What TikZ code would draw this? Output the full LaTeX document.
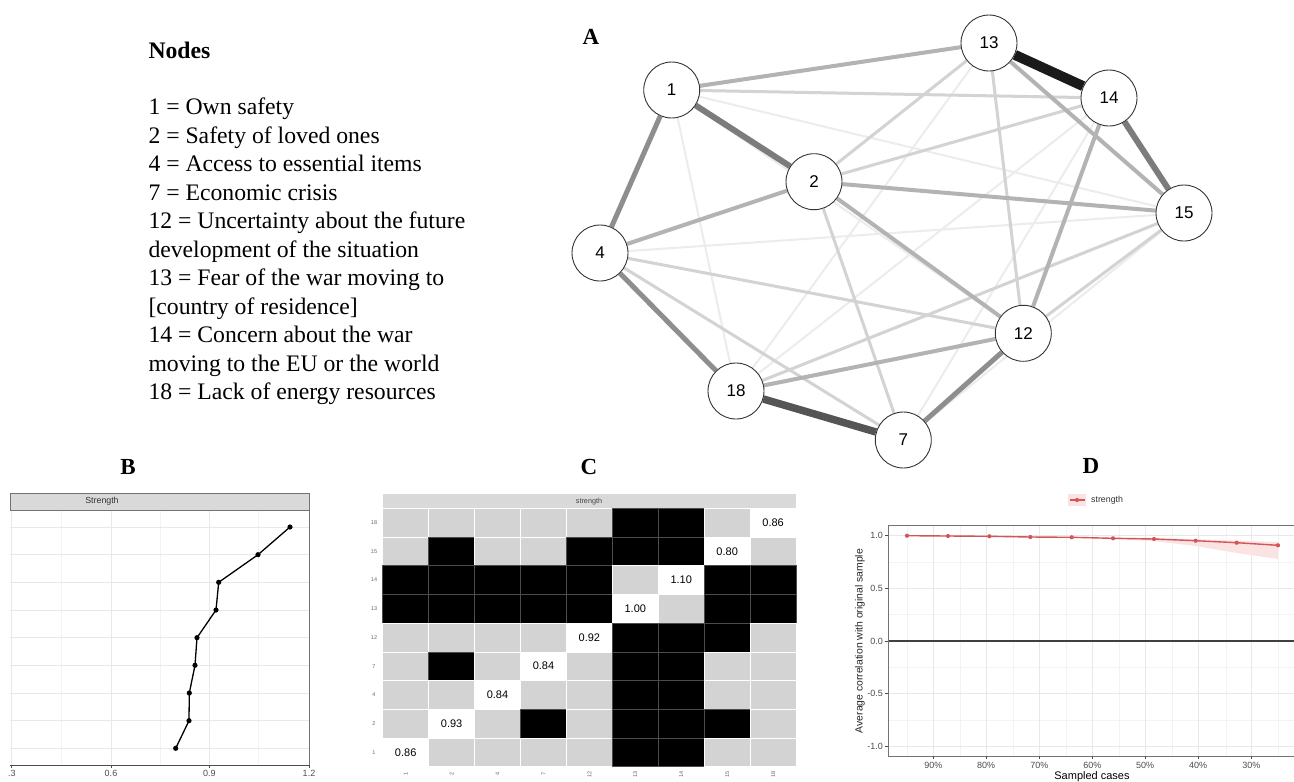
\documentclass[tikz,border=0pt]{standalone}
\usepackage{fontspec}
\setmainfont{Liberation Serif}
\setsansfont{Liberation Sans}
\usetikzlibrary{backgrounds}
\definecolor{cellgray}{HTML}{D3D3D3}
\definecolor{stripgray}{HTML}{D9D9D9}
\definecolor{gridmaj}{HTML}{E8E8E8}
\definecolor{gridmin}{HTML}{F3F3F3}
\definecolor{axisgray}{HTML}{4D4D4D}
\definecolor{redline}{HTML}{D2555A}
\definecolor{ribbon}{HTML}{FBE3E3}
\definecolor{eA}{HTML}{1A1A1A}
\definecolor{eB}{HTML}{555555}
\definecolor{eC}{HTML}{7C7C7C}
\definecolor{eD}{HTML}{8E8E8E}
\definecolor{eE}{HTML}{B3B3B3}
\definecolor{eF}{HTML}{D3D3D3}
\definecolor{eG}{HTML}{ECECEC}
\newcommand\myfs[2]{\fontsize{#1}{#2}\selectfont}
\tikzset{
  net/.style={circle, draw=black!80, line width=0.9pt, fill=white, minimum size=56pt, inner sep=0pt, font=\sffamily\myfs{17}{17}},
  legline/.style={anchor=base west, inner sep=0pt, font=\myfs{23.7}{28.5}},
  panellab/.style={inner sep=0pt, font=\bfseries\myfs{23}{23}},
  wA/.style={draw=eA, line width=10pt},
  wB/.style={draw=eB, line width=7.5pt},
  wC/.style={draw=eC, line width=6pt},
  wD/.style={draw=eD, line width=5pt},
  wE/.style={draw=eE, line width=4pt},
  wF/.style={draw=eF, line width=3pt},
  wG/.style={draw=eG, line width=2pt},
  sG/.style={fill=cellgray, draw=white, line width=0.6pt},
  sB/.style={fill=black, draw=black!70, line width=0.6pt},
  sW/.style={fill=white, draw=white, line width=0.6pt},
  tick/.style={inner sep=0pt, text=axisgray, font=\sffamily\myfs{9}{9}},
  smalltick/.style={inner sep=0pt, text=black!60, font=\sffamily\myfs{5.5}{5.5}},
  cellval/.style={inner sep=0pt, font=\sffamily\myfs{11}{11}},
  gmaj/.style={draw=gridmaj, line width=0.8pt},
  gmin/.style={draw=gridmin, line width=0.6pt},
}
\begin{document}
\begin{tikzpicture}[x=1pt,y=-1pt]
\useasboundingbox (0,0) rectangle (1294,782);

% ---------- legend text ----------
\node[legline, font=\bfseries\myfs{23.7}{28.5}] (ttl) at (148.3,58) {Nodes};
\node[legline] (l1) at (148.3,114.7) {1 = Own safety};
\node[legline] (l2) at (148.3,143.2) {2 = Safety of loved ones};
\node[legline] (l3) at (148.3,171.7) {4 = Access to essential items};
\node[legline] (l4) at (148.3,200.2) {7 = Economic crisis};
\node[legline] (l5) at (148.3,228.7) {12 = Uncertainty about the future};
\node[legline] (l6) at (148.3,257.2) {development of the situation};
\node[legline] (l7) at (148.3,285.7) {13 = Fear of the war moving to};
\node[legline] (l8) at (148.3,314.2) {[country of residence]};
\node[legline] (l9) at (148.3,342.7) {14 = Concern about the war};
\node[legline] (l10) at (148.3,371.2) {moving to the EU or the world};
\node[legline] (l11) at (148.3,399.7) {18 = Lack of energy resources};

% ---------- panel A : network ----------
\node[panellab] (labA) at (591,37) {A};
\node[net] (n1) at (671.7,90) {1};
\node[net] (n2) at (814,181.7) {2};
\node[net] (n4) at (600,253) {4};
\node[net] (n18) at (736,391) {18};
\node[net] (n7) at (903.3,440) {7};
\node[net] (n13) at (989,43) {13};
\node[net] (n14) at (1109,98) {14};
\node[net] (n15) at (1184,213) {15};
\node[net] (n12) at (1023.3,333.3) {12};
\begin{scope}[on background layer]
  \fill[white] (0,0) rectangle (1294,782);
  \foreach \a/\b in {n1/n18, n1/n15, n4/n15, n18/n14, n7/n14, n15/n7, n18/n13, n1/n12}
    \draw[wG] (\a) -- (\b);
  \foreach \a/\b in {n1/n14, n2/n13, n2/n14, n4/n12, n4/n7, n2/n7, n13/n12, n18/n15, n15/n12}
    \draw[wF] (\a) -- (\b);
  \foreach \a/\b in {n2/n4, n1/n13, n13/n15, n2/n15, n2/n12, n18/n12, n14/n12}
    \draw[wE] (\a) -- (\b);
  \foreach \a/\b in {n1/n4, n4/n18, n7/n12}
    \draw[wD] (\a) -- (\b);
  \foreach \a/\b in {n1/n2, n14/n15}
    \draw[wC] (\a) -- (\b);
  \draw[wB] (n18) -- (n7);
  \draw[wA] (n13) -- (n14);
\end{scope}

% ---------- panel B ----------
\node[panellab] (labB) at (128,467) {B};
\foreach \x in {61.3,160,258.7} \draw[gmin] (\x,510) -- (\x,765);
\foreach \x in {11.7,111,209.3} \draw[gmaj] (\x,510) -- (\x,765);
\foreach \y in {527,554.7,582.3,610,637.7,665.3,693,720.7,748.3} \draw[gmaj] (10,\y) -- (309,\y);
\draw[black!55, line width=0.8pt] (309,510) -- (309,765);
\draw[axisgray, line width=0.9pt] (10,765) -- (309,765);
\foreach \x in {11.7,111,209.3,309} \draw[axisgray, line width=0.8pt] (\x,765) -- (\x,768);
\node[tick] (bt1) at (12,773) {.3};
\node[tick] (bt2) at (111,773) {0.6};
\node[tick] (bt3) at (209.3,773) {0.9};
\node[tick] (bt4) at (309,773) {1.2};
\draw[fill=stripgray, draw=black!55, line width=0.8pt] (10,493) rectangle (309,510);
\node[inner sep=0pt, text=black!80, font=\sffamily\myfs{8.8}{8.8}] (bstrip) at (102,501.5) {Strength};
\draw[black, line width=1.3pt] (290,527) -- (258,554.7) -- (218.7,582.3) -- (216,610) -- (197,637.7) -- (195,665.3) -- (189.3,693) -- (189,720.7) -- (175.7,748.3);
\foreach \x/\y in {290/527,258/554.7,218.7/582.3,216/610,197/637.7,195/665.3,189.3/693,189/720.7,175.7/748.3}
  \fill[black] (\x,\y) circle (2.6);

% ---------- panel C ----------
\node[panellab] (labC) at (589,467) {C};
\fill[stripgray] (382.7,494) rectangle (796,508.3);
\node[inner sep=0pt, text=black!75, font=\sffamily\myfs{7.2}{7.2}] (cstrip) at (589,501.5) {strength};
\foreach \row [count=\j from 0] in {{G,G,G,G,G,B,B,G,W},{G,B,G,G,B,B,B,W,G},{B,B,B,B,B,G,W,B,B},{B,B,B,B,B,W,G,B,B},{G,G,G,G,W,B,B,B,G},{G,B,G,W,G,B,B,G,G},{G,G,W,G,G,B,B,G,G},{G,W,G,B,G,B,B,B,G},{W,G,G,G,G,B,B,G,G}}
{
  \foreach \c [count=\i from 0] in \row
    \path[s\c] ({382.7+\i*45.93},{508.3+\j*28.7}) rectangle ++(45.93,28.7);
}
\foreach \v/\i/\j in {0.86/8/0, 0.80/7/1, 1.10/6/2, 1.00/5/3, 0.92/4/4, 0.84/3/5, 0.84/2/6, 0.93/1/7, 0.86/0/8}
  \node[cellval] (cv\i) at ({382.7+(\i+0.5)*45.93},{508.3+(\j+0.5)*28.7}) {\v};
\foreach \l [count=\j from 0] in {18,15,14,13,12,7,4,2,1}
  \node[smalltick] (rl\j) at (374,{508.3+(\j+0.5)*28.7}) {\l};
\foreach \l [count=\i from 0] in {1,2,4,7,12,13,14,15,18}
  \node[smalltick, rotate=90] (cl\i) at ({382.7+(\i+0.5)*45.93},774) {\l};

% ---------- panel D ----------
\node[panellab] (labD) at (1091,466) {D};
\foreach \x in {907,960,1013,1066,1119,1172,1226,1278} \draw[gmin] (\x,525) -- (\x,756);
\foreach \y in {562,614.7,667.3,720} \draw[gmin] (888.3,\y) -- (1294,\y);
\foreach \x in {933.3,986,1039.3,1092.3,1145,1198,1251.3} \draw[gmaj] (\x,525) -- (\x,756);
\foreach \y in {535.7,588.3,693.7,746} \draw[gmaj] (888.3,\y) -- (1294,\y);
\draw[black!75, line width=2pt] (888.3,641) -- (1294,641);
\draw[black!55, line width=0.8pt] (1294,525) -- (888.3,525) -- (888.3,756) -- (1294,756);
\foreach \x in {933.3,986,1039.3,1092.3,1145,1198,1251.3} \draw[axisgray, line width=0.7pt] (\x,756) -- (\x,759);
\foreach \y in {535.7,588.3,641,693.7,746} \draw[axisgray, line width=0.7pt] (885.3,\y) -- (888.3,\y);
\foreach \t/\y [count=\k] in {1.0/535.7,0.5/588.3,0.0/641,-0.5/693.7,-1.0/746}
  \node[tick, anchor=east] (dy\k) at (883,\y) {\t};
\foreach \t/\x [count=\k] in {90\%/933.3,80\%/986,70\%/1039.3,60\%/1092.3,50\%/1145,40\%/1198,30\%/1251.3}
  \node[tick] (dx\k) at (\x,765.5) {\t};
\node[inner sep=0pt, font=\sffamily\myfs{11}{11}] (dxt) at (1092,776.5) {Sampled cases};
\node[inner sep=0pt, rotate=90, font=\sffamily\myfs{10.4}{10.4}, text=black!85] (dyt) at (860,641) {Average correlation with original sample};
\fill[ribbon] (1113,537.8) -- (1154,538.2) -- (1195.7,539.2) -- (1236.7,540.6) -- (1278,542) -- (1278,559) -- (1236.7,553) -- (1195.7,546) -- (1154,541) -- (1113,539) -- cycle;
\draw[redline, line width=1.4pt] (907,535.7) -- (948,536) -- (989.3,536.3) -- (1030.3,537) -- (1071.7,537.3) -- (1113,538.3) -- (1154,539) -- (1195.7,540.7) -- (1236.7,542.7) -- (1278,545.3);
\foreach \x/\y in {907/535.7,948/536,989.3/536.3,1030.3/537,1071.7/537.3,1113/538.3,1154/539,1195.7/540.7,1236.7/542.7,1278/545.3}
  \fill[redline] (\x,\y) circle (2.1);
\fill[ribbon] (1068,494) rectangle (1086,506);
\draw[redline, line width=1.4pt] (1069.5,500) -- (1084.5,500);
\fill[redline] (1077,500) circle (2.1);
\node[inner sep=0pt, anchor=west, font=\sffamily\myfs{8.8}{8.8}, text=black!80] (dleg) at (1091,500) {strength};
\end{tikzpicture}
\end{document}
